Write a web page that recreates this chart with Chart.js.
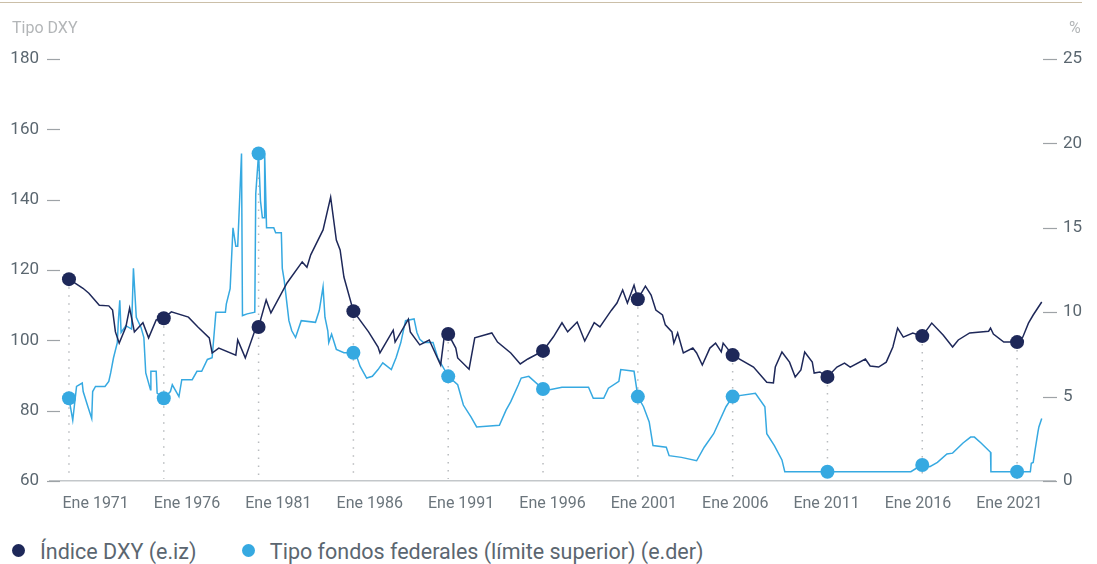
<!DOCTYPE html>
<html>
<head>
<meta charset="utf-8">
<script src="https://cdn.jsdelivr.net/npm/chart.js@4.4.1/dist/chart.umd.min.js"></script>
<style>
  body { margin: 0; background: #fff; font-family: Roboto, "Noto Sans", sans-serif; }
  #wrap { position: relative; width: 1097px; height: 564px; overflow: hidden; }
  #topline { position: absolute; left: 0; top: 2px; width: 1082px; height: 1px; background: #cbbfa8; }
  #chart { position: absolute; left: 0; top: 0; }
  .axt { position: absolute; top: 18px; font-size: 16px; color: #b3b6b8; }
  #legend { position: absolute; left: 12px; top: 539px; font-size: 21.5px; color: #5b6670; white-space: nowrap; }
  #legend span.item { display: inline-block; margin-right: 40px; }
  #legend i { display: inline-block; width: 13px; height: 13px; border-radius: 50%; margin-right: 15px; vertical-align: 2px; }
</style>
</head>
<body>
<div id="wrap">
  <div id="topline"></div>
  <canvas id="chart" width="1097" height="525"></canvas>
  <div class="axt" style="left:12px">Tipo DXY</div>
  <div class="axt" style="left:1069px">%</div>
  <div id="legend">
    <span class="item"><i style="background:#1e2859"></i>Índice DXY (e.iz)</span>
    <span class="item"><i style="background:#36a9e1"></i>Tipo fondos federales (límite superior) (e.der)</span>
  </div>
</div>
<script>
// etiquetas del eje x
var tickLabels = ["Ene 1971", "Ene 1976", "Ene 1981", "Ene 1986", "Ene 1991", "Ene 1996",
  "Ene 2001", "Ene 2006", "Ene 2011", "Ene 2016", "Ene 2021"];
var markerYears = [1971, 1976, 1981, 1986, 1991, 1996, 2001, 2006, 2011, 2016, 2021];

// Indice DXY (eje izquierdo)
var dxyYears = [1971, 1971.74, 1972.05, 1972.6, 1973.1, 1973.3, 1973.45, 1973.65, 1974, 1974.2,
  1974.45, 1974.9, 1975.2, 1975.6, 1976, 1976.4, 1977.3, 1977.8, 1978.4, 1978.55,
  1978.9, 1979.8, 1979.9, 1980.3, 1980.85, 1981, 1981.4, 1981.65, 1982.5, 1983.3,
  1983.55, 1983.75, 1984.4, 1984.8, 1985.1, 1985.3, 1985.5, 1986, 1986.8, 1987.3,
  1987.4, 1988.1, 1988.2, 1988.9, 1989, 1989.5, 1990, 1990.6, 1990.8, 1991,
  1991.4, 1991.5, 1992.1, 1992.4, 1993.3, 1993.6, 1994.3, 1994.8, 1995.2, 1996,
  1996.55, 1997, 1997.3, 1997.8, 1998.2, 1998.7, 1999, 1999.6, 1999.9, 2000.2,
  2000.45, 2000.8, 2001, 2001.4, 2001.7, 2001.95, 2002.3, 2002.45, 2002.8, 2002.9,
  2003.1, 2003.4, 2003.9, 2004.1, 2004.4, 2004.8, 2005.1, 2005.4, 2005.5, 2006,
  2007.1, 2007.8, 2008.15, 2008.25, 2008.6, 2009, 2009.3, 2009.6, 2009.8, 2010.2,
  2010.3, 2010.6, 2011, 2011.5, 2011.9, 2012.2, 2013, 2013.25, 2013.7, 2014.1,
  2014.45, 2014.7, 2015, 2015.5, 2016, 2016.5, 2017.1, 2017.6, 2017.9, 2018.5,
  2019.5, 2019.6, 2019.75, 2020.3, 2021, 2021.3, 2021.6, 2021.85, 2022.3];
var dxyValues = [117.4, 114.8, 113.4, 110.0, 109.8, 108.6, 102.4, 99.2, 103.8, 109.2,
  102.4, 105.0, 100.7, 105.8, 106.3, 108.1, 106.6, 103.8, 100.7, 96.4,
  97.8, 95.8, 100.1, 95.0, 103.5, 103.8, 111.5, 107.8, 116.3, 122.3,
  120.8, 124.3, 131.4, 140.7, 128.5, 125.7, 118.0, 108.3, 102.4, 98.1,
  96.4, 102.9, 99.5, 106.0, 102.4, 98.7, 100.1, 93.0, 101.5, 101.8,
  97.8, 95.0, 91.8, 100.7, 102.1, 99.5, 96.4, 93.3, 94.7, 97.0,
  101.0, 105.0, 102.4, 105.2, 99.8, 105.0, 103.8, 108.5, 110.6, 114.3,
  110.6, 115.7, 111.7, 115.4, 112.9, 108.6, 107.2, 104.4, 102.4, 99.2,
  102.1, 96.4, 97.8, 96.4, 93.0, 97.8, 99.2, 96.7, 99.2, 95.8,
  92.4, 88.1, 87.9, 92.4, 96.7, 93.8, 89.6, 91.6, 96.7, 93.8,
  90.7, 91.0, 89.6, 92.4, 93.5, 92.4, 94.7, 92.7, 92.4, 93.8,
  98.1, 103.5, 100.9, 102.1, 101.2, 104.9, 101.5, 98.1, 100.1, 102.1,
  102.6, 103.5, 101.8, 99.5, 99.5, 100.9, 104.9, 107.2, 110.9];

// Tipo fondos federales, limite superior (eje derecho, %)
var ffYears = [1971, 1971.2, 1971.4, 1971.7, 1971.75, 1972, 1972.2, 1972.25, 1972.4, 1972.9,
  1973.1, 1973.2, 1973.35, 1973.55, 1973.6, 1973.68, 1973.75, 1974, 1974.3, 1974.4,
  1974.55, 1974.8, 1974.95, 1975.05, 1975.3, 1975.32, 1975.6, 1975.65, 1976, 1976.35,
  1976.45, 1976.8, 1976.95, 1977.5, 1977.75, 1978, 1978.3, 1978.55, 1978.75, 1979.25,
  1979.3, 1979.5, 1979.65, 1979.8, 1979.9, 1980.1, 1980.15, 1980.4, 1980.8, 1980.85,
  1981, 1981.1, 1981.2, 1981.3, 1981.32, 1981.42, 1981.8, 1981.9, 1982.2, 1982.25,
  1982.35, 1982.6, 1982.75, 1982.95, 1983.25, 1984, 1984.2, 1984.4, 1984.5, 1984.65,
  1984.7, 1984.85, 1985.1, 1985.5, 1986, 1986.2, 1986.35, 1986.7, 1987, 1987.3,
  1987.55, 1988, 1988.25, 1988.5, 1988.75, 1989.2, 1989.35, 1989.5, 1989.7, 1990.2,
  1990.45, 1991, 1991.5, 1991.8, 1992.2, 1992.5, 1993.7, 1994.05, 1994.3, 1994.7,
  1994.85, 1995.25, 1996, 1996.35, 1997, 1998.4, 1998.65, 1999.2, 1999.45, 2000,
  2000.1, 2000.8, 2001, 2001.3, 2001.6, 2001.8, 2002.5, 2002.65, 2003.3, 2004.1,
  2004.5, 2005, 2005.65, 2006, 2007.2, 2007.7, 2007.8, 2008.2, 2008.6, 2008.75,
  2011, 2015.4, 2015.75, 2016, 2016.4, 2016.8, 2017.3, 2017.6, 2018.15, 2018.55,
  2018.75, 2019.1, 2019.6, 2019.62, 2021, 2021.7, 2021.75, 2021.85, 2021.95, 2022.1,
  2022.15, 2022.3];
var ffValues = [4.9, 3.6, 5.6, 5.8, 5.3, 4.4, 3.7, 5.3, 5.6, 5.6,
  5.9, 6.4, 7.3, 8.2, 9.4, 10.7, 8.8, 9.2, 9.0, 12.6,
  9.7, 9.1, 8.5, 6.4, 5.4, 6.5, 6.5, 5.2, 4.9, 5.3,
  5.7, 5.0, 6.0, 6.0, 6.5, 6.5, 7.2, 7.3, 10.0, 10.0,
  10.5, 11.4, 15.0, 13.9, 13.9, 19.4, 9.8, 9.9, 10.0, 17.0,
  19.4, 16.6, 15.6, 15.6, 19.4, 15.0, 15.0, 14.7, 14.7, 12.6,
  11.9, 9.5, 8.9, 8.5, 9.5, 9.4, 10.1, 11.5, 9.7, 8.9,
  8.2, 8.7, 7.8, 7.6, 7.6, 7.3, 6.8, 6.1, 6.2, 6.6,
  7.0, 6.6, 7.3, 8.2, 9.5, 9.6, 8.8, 8.4, 8.2, 8.2,
  7.3, 6.2, 5.7, 4.5, 3.8, 3.2, 3.3, 4.2, 4.7, 5.7,
  6.1, 6.2, 5.45, 5.4, 5.55, 5.55, 4.9, 4.9, 5.5, 5.9,
  6.6, 6.5, 5.0, 4.4, 3.5, 2.1, 2.0, 1.5, 1.4, 1.2,
  2.0, 2.8, 4.4, 5.0, 5.2, 4.4, 2.8, 2.1, 1.25, 0.55,
  0.55, 0.55, 0.8, 0.95, 0.85, 1.1, 1.6, 1.65, 2.25, 2.6,
  2.6, 2.25, 1.7, 0.55, 0.55, 0.55, 1.05, 1.1, 1.85, 2.9,
  3.2, 3.7];

var navy = "#1e2859";
var light = "#36a9e1";

function pts(xs, ys) {
  return xs.map(function (x, i) { return { x: x, y: ys[i] }; });
}
function markerRadius(ctx) {
  return ctx.raw && markerYears.indexOf(ctx.raw.x) >= 0 ? 7 : 0;
}

// guiones en los ticks y lineas punteadas verticales
var extras = {
  id: "extras",
  beforeDatasetsDraw: function (chart) {
    var c = chart.ctx, a = chart.chartArea, s = chart.scales;
    c.save();
    c.strokeStyle = "#b9bcbf";
    c.lineWidth = 1.5;
    c.setLineDash([1.5, 6.5]);
    markerYears.forEach(function (yr) {
      var px = s.x.getPixelForValue(yr);
      var top = Math.min(
        s.y.getPixelForValue(dxyValues[dxyYears.indexOf(yr)]),
        s.y1.getPixelForValue(ffValues[ffYears.indexOf(yr)])
      );
      c.beginPath();
      c.moveTo(px, top + 8);
      c.lineTo(px, a.bottom - 2);
      c.stroke();
    });
    c.setLineDash([]);
    c.strokeStyle = "#9ea3a7";
    c.lineWidth = 1.2;
    s.y.ticks.forEach(function (t) {
      var py = Math.round(s.y.getPixelForValue(t.value)) + 0.5;
      c.beginPath(); c.moveTo(47, py); c.lineTo(60, py); c.stroke();
    });
    s.y1.ticks.forEach(function (t) {
      var py = Math.round(s.y1.getPixelForValue(t.value)) + 0.5;
      c.beginPath(); c.moveTo(1043, py); c.lineTo(1057, py); c.stroke();
    });
    c.restore();
  }
};

new Chart(document.getElementById("chart"), {
  type: "line",
  data: {
    datasets: [{
      label: "Índice DXY (e.iz)",
      data: pts(dxyYears, dxyValues),
      yAxisID: "y",
      xAxisID: "x",
      borderColor: navy,
      backgroundColor: navy,
      borderWidth: 1.5,
      pointRadius: markerRadius,
      pointBorderWidth: 0,
      tension: 0,
      order: 1
    }, {
      label: "Tipo fondos federales (límite superior) (e.der)",
      data: pts(ffYears, ffValues),
      yAxisID: "y1",
      xAxisID: "x",
      borderColor: light,
      backgroundColor: light,
      borderWidth: 1.5,
      pointRadius: markerRadius,
      pointBorderWidth: 0,
      tension: 0,
      order: 2
    }]
  },
  options: {
    responsive: false,
    animation: false,
    layout: { padding: { top: 59, left: 0, right: 0, bottom: 0 } },
    plugins: { legend: { display: false }, tooltip: { enabled: false } },
    scales: {
      x: {
        type: "linear",
        display: false,
        min: 1970,
        max: 2023
      },
      xc: {
        type: "category",
        position: "bottom",
        labels: tickLabels,
        offset: true,
        grid: { display: false, drawTicks: false },
        border: { display: true, color: "#c3c7ca", width: 1.5 },
        ticks: {
          color: "#6b757c",
          font: { family: "Roboto", size: 16 },
          padding: 13,
          maxRotation: 0,
          autoSkip: false
        },
        afterFit: function (sc) { sc.height = 44; }
      },
      y: {
        position: "left",
        min: 60,
        max: 180,
        grid: { display: false, drawTicks: false },
        border: { display: false },
        ticks: {
          stepSize: 20,
          color: "#5b6770",
          font: { family: "Roboto", size: 17 },
          padding: 11
        },
        afterFit: function (sc) { sc.width = 50; }
      },
      y1: {
        position: "right",
        min: 0,
        max: 25,
        grid: { display: false, drawTicks: false },
        border: { display: false },
        ticks: {
          stepSize: 5,
          color: "#5b6770",
          font: { family: "Roboto", size: 17 },
          padding: 8
        },
        afterFit: function (sc) { sc.width = 42; }
      }
    }
  },
  plugins: [extras]
});
</script>
</body>
</html>
